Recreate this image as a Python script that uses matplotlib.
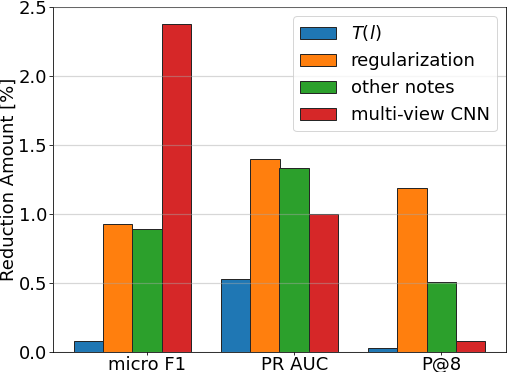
import numpy as np
import matplotlib
matplotlib.use("Agg")
import matplotlib.pyplot as plt

groups = ["micro F1", "PR AUC", "P@8"]
series = ["$T(l)$", "regularization", "other notes", "multi-view CNN"]
t_l = [0.08, 0.53, 0.03]
regularization = [0.93, 1.40, 1.19]
other_notes = [0.89, 1.33, 0.51]
multi_view = [2.38, 1.00, 0.08]
colors = ["#1f77b4", "#ff7f0e", "#2ca02c", "#d62728"]

DPI = 72
plt.rcParams["font.size"] = 18
fig = plt.figure(figsize=(508/DPI, 372/DPI), dpi=DPI)
ax = fig.add_axes([53/508, 1-352/372, (506-53)/508, (352-7)/372])

x = np.arange(len(groups))
w = 0.2
data = [t_l, regularization, other_notes, multi_view]
offsets = [-2, -1, 0, 1]
for vals, lab, c, o in zip(data, series, colors, offsets):
    ax.bar(x + o*w, vals, w, label=lab, color=c, edgecolor="#262626", linewidth=1, zorder=2)

ax.set_xticks(x)
ax.set_xticklabels(groups)
ax.set_ylim(0, 2.5)
ax.set_yticks([0, 0.5, 1.0, 1.5, 2.0, 2.5])
ax.tick_params(axis="x", length=3, pad=0.5)
ax.tick_params(axis="y", length=4, pad=2)
ax.set_ylabel("Reduction Amount [%]")
ax.yaxis.set_label_coords((18 - 53) / 453, 0.5)
ax.yaxis.grid(True, color="#a8a8a8", alpha=0.45, linewidth=1.2)
ax.set_axisbelow(False)
ax.legend(loc="upper right")
fig.savefig("out.png", dpi=DPI)
